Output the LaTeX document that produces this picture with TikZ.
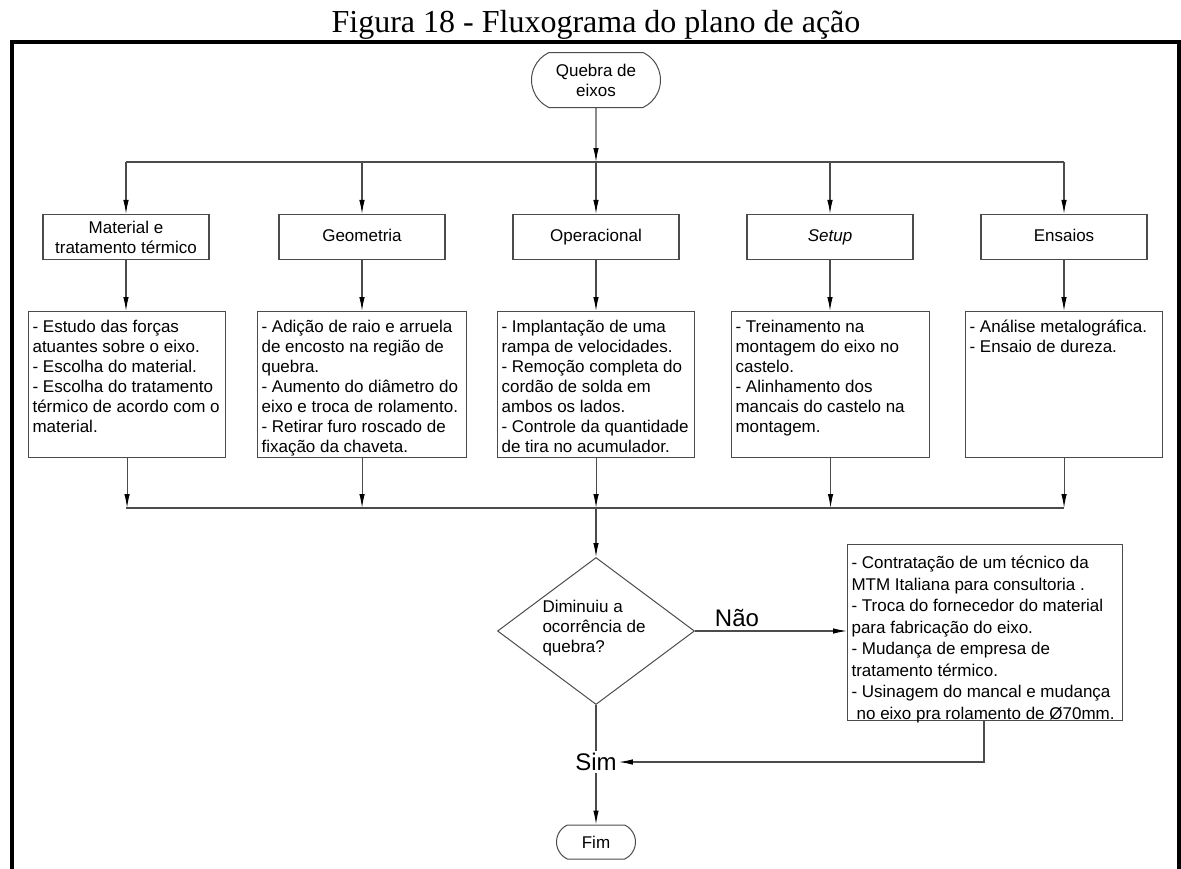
\documentclass[tikz,border=0pt]{standalone}
\usepackage{fontspec}
\setmainfont{Liberation Serif}
\setsansfont{Liberation Sans}
\usetikzlibrary{arrows.meta,shapes.geometric,shapes.misc}
\definecolor{lncol}{RGB}{75,75,75}
\newcommand{\boxtext}[4]{\parbox[c][#2][t]{#1}{\vspace*{#3}\raggedright #4}}
\begin{document}
\begin{tikzpicture}[x=1pt,y=-1pt,
  every node/.style={font=\sffamily\fontsize{17}{20}\selectfont},
  ln/.style={draw=lncol,line width=1.1pt},
  arr/.style={ln,-{Latex[length=14pt,width=5.5pt,fill=black,color=black]}},
  term/.style={rounded rectangle,rounded rectangle arc length=130,draw=lncol,line width=1pt,align=center,inner sep=0pt},
  cat/.style={rectangle,draw=lncol,line width=1.1pt,minimum width=166pt,minimum height=45pt,align=center,inner sep=0pt},
  det/.style={rectangle,draw=lncol,line width=1.1pt,anchor=north west,inner xsep=4pt,inner ysep=0pt},
  big/.style={font=\sffamily\fontsize{24}{24}\selectfont,inner sep=2pt}
]
\useasboundingbox (0,0) rectangle (1181,868);
\node[font=\rmfamily\fontsize{32}{32}\selectfont,anchor=base,inner sep=0pt] (title) at (596,32) {Figura 18 - Fluxograma do plano de ação};
\draw[line width=3.5pt] (12,875) -- (12,42) -- (1179,42) -- (1179,875);

\node[term,minimum width=129pt,minimum height=55pt] (start) at (596,80) {\strut Quebra de\\eixos};

\node[cat] (c1) at (126,237) {\strut Material e\\tratamento térmico};
\node[cat] (c2) at (362,237) {\strut Geometria};
\node[cat] (c3) at (596,237) {\strut Operacional};
\node[cat] (c4) at (830,237) {\strut\itshape Setup};
\node[cat] (c5) at (1064,237) {\strut Ensaios};

\coordinate (t1) at (126,162);
\coordinate (t3) at (596,162);
\coordinate (t5) at (1064,162);
\draw[arr] (start) -- (t3);
\draw[ln] (t1) -- (t5);
\draw[arr] (t1) -- (c1);
\draw[arr] (c2 |- t3) -- (c2);
\draw[arr] (t3) -- (c3);
\draw[arr] (c4 |- t3) -- (c4);
\draw[arr] (t5) -- (c5);

\node[det] (d1) at (28,311) {\boxtext{189pt}{146pt}{7pt}{\strut- Estudo das forças\\atuantes sobre o eixo.\\- Escolha do material.\\- Escolha do tratamento\\térmico de acordo com o\\material.}};
\node[det] (d2) at (257,311) {\boxtext{201pt}{146pt}{7pt}{\strut- Adição de raio e arruela\\de encosto na região de\\quebra.\\- Aumento do diâmetro do\\eixo e troca de rolamento.\\- Retirar furo roscado de\\fixação da chaveta.}};
\node[det] (d3) at (497,311) {\boxtext{189pt}{146pt}{7pt}{\strut- Implantação de uma\\rampa de velocidades.\\- Remoção completa do\\cordão de solda em\\ambos os lados.\\- Controle da quantidade\\de tira no acumulador.}};
\node[det] (d4) at (731,311) {\boxtext{190pt}{146pt}{7pt}{\strut- Treinamento na\\montagem do eixo no\\castelo.\\- Alinhamento dos\\mancais do castelo na\\montagem.}};
\node[det] (d5) at (965,311) {\boxtext{189pt}{146pt}{7pt}{\strut- Análise metalográfica.\\- Ensaio de dureza.}};

\draw[arr] (c1) -- (c1 |- d1.north);
\draw[arr] (c2) -- (c2 |- d2.north);
\draw[arr] (c3) -- (c3 |- d3.north);
\draw[arr] (c4) -- (c4 |- d4.north);
\draw[arr] (c5) -- (c5 |- d5.north);

\coordinate (u1) at (126,508);
\coordinate (u3) at (596,508);
\coordinate (u5) at (1064,508);
\draw[arr] (d1.south) -- (d1.south |- u1);
\draw[arr] (d2.south) -- (d2.south |- u1);
\draw[arr] (d3.south) -- (d3.south |- u1);
\draw[arr] (d4.south) -- (d4.south |- u1);
\draw[arr] (d5.south) -- (d5.south |- u1);
\draw[ln] (u1) -- (u5);

\node[diamond,draw=lncol,line width=1pt,minimum width=197pt,minimum height=147pt,inner sep=0pt] (dia) at (596,631) {};
\node[align=left] (dq) at (594,628) {Diminuiu a\\ocorrência de\\quebra?};
\draw[arr] (u3) -- (dia.north);

\node[det] (rb) at (847,544) {\boxtext{267pt}{176pt}{9pt}{\fontsize{17}{21.5}\selectfont\strut- Contratação de um técnico da\\MTM Italiana para consultoria .\\- Troca do fornecedor do material\\para fabricação do eixo.\\- Mudança de empresa de\\tratamento térmico.\\- Usinagem do mancal e mudança\\\hspace*{0.3em}no eixo pra rolamento de Ø70mm.}};

\node[big] (nao) at (737,618) {Não};
\draw[arr] (dia.east) -- (dia.east -| rb.west);

\node[big] (sim) at (596,762) {Sim};
\draw[ln] (dia.south) -- (sim.north);
\node[term,minimum width=79pt,minimum height=34pt] (fim) at (596,842) {Fim};
\draw[arr] (sim.south) -- (fim.north);
\coordinate (rr) at (984,720);
\draw[arr] (rr) |- (sim.east);
\end{tikzpicture}
\end{document}
